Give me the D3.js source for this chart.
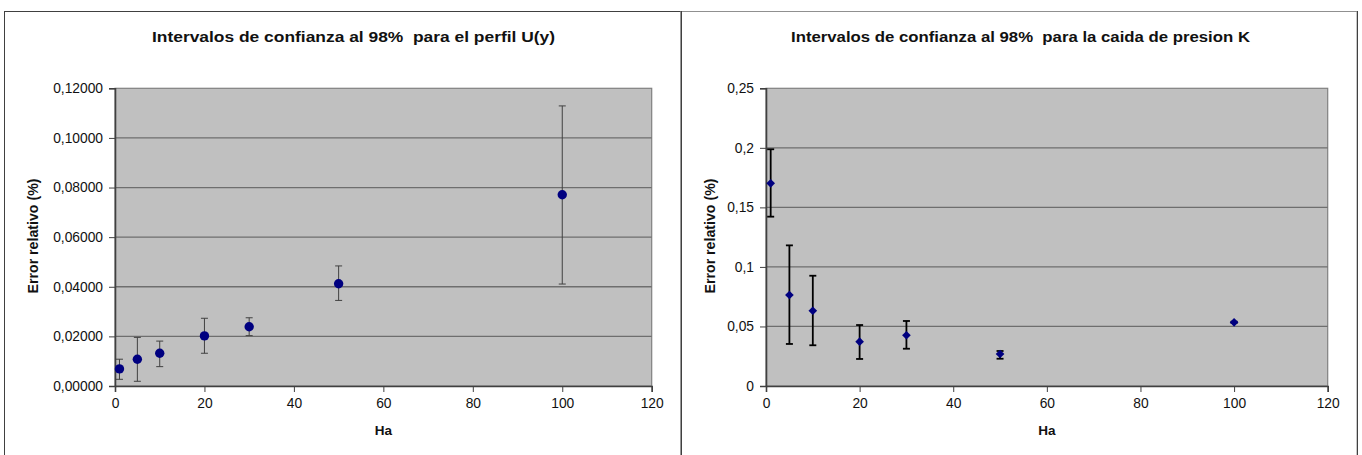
<!DOCTYPE html>
<html><head><meta charset="utf-8">
<script src="https://cdn.jsdelivr.net/npm/d3@7/dist/d3.min.js"></script>
<style>body{margin:0;background:#fff;}svg{display:block;font-family:"Liberation Sans",Arial,sans-serif;}</style>
</head><body>
<svg id="c" width="1362" height="455"></svg>
<script>
// ---- data ----
const haU = [1, 5, 10, 20, 30, 50, 100];
const errU = [0.0069, 0.0108, 0.0132, 0.0202, 0.0239, 0.0412, 0.0771];
const errUlo = [0.0027, 0.0019, 0.0078, 0.0132, 0.0203, 0.0345, 0.0411];
const errUhi = [0.0108, 0.0196, 0.0181, 0.0273, 0.0275, 0.0484, 0.1129];
const ticksUy = [0, 0.02, 0.04, 0.06, 0.08, 0.10, 0.12];

const haK = [1, 5, 10, 20, 30, 50, 100];
const errK = [0.1702, 0.0764, 0.0632, 0.0372, 0.0426, 0.0269, 0.0535];
const errKlo = [0.1422, 0.0353, 0.0342, 0.0227, 0.0313, 0.0229, 0.0530];
const errKhi = [0.1988, 0.1181, 0.0926, 0.0512, 0.0546, 0.0294, 0.0540];
const ticksKy = [0, 0.05, 0.1, 0.15, 0.2, 0.25];
const ticksX = [0, 20, 40, 60, 80, 100, 120];

const titleU = "Intervalos de confianza al 98%\u00a0 para el perfil U(y)";
const titleK = "Intervalos de confianza al 98%\u00a0 para la caida de presion K";
const yTitle = "Error relativo (%)";
const xTitle = "Ha";

const svg = d3.select("#c");

// frames
svg.append("rect").attr("x",4.5).attr("y",11.5).attr("width",676.5).attr("height",460)
  .attr("fill","none").attr("stroke","#404040").attr("stroke-width",1);
svg.append("rect").attr("x",681).attr("y",11.5).attr("width",676).attr("height",460)
  .attr("fill","none").attr("stroke","#909090").attr("stroke-width",1);
svg.append("line").attr("x1",681.5).attr("x2",681.5).attr("y1",11).attr("y2",455)
  .attr("stroke","#404040");
svg.append("line").attr("x1",1357.5).attr("x2",1357.5).attr("y1",11).attr("y2",455)
  .attr("stroke","#404040");

function chart(o){
  const g = svg.append("g");
  const x = d3.scaleLinear().domain([0,120]).range([o.left,o.right]);
  const y = d3.scaleLinear().domain([0,o.ymax]).range([386,88.3]);
  // plot area
  g.append("rect").attr("x",o.left).attr("y",88.3).attr("width",o.right-o.left).attr("height",386-88.3)
    .attr("fill","#c0c0c0").attr("stroke","#808080").attr("stroke-width",1.2);
  // gridlines
  g.selectAll(".grid").data(o.yticks.filter(d=>d>0 && d<o.ymax)).enter().append("line")
    .attr("x1",o.left).attr("x2",o.right).attr("y1",d=>y(d)).attr("y2",d=>y(d))
    .attr("stroke","#6e6e6e").attr("stroke-width",1.3);
  // axes
  const ya = d3.axisLeft(y).tickValues(o.yticks).tickSize(6).tickPadding(6).tickFormat(o.fmt);
  const ga = g.append("g").attr("transform",`translate(${o.left},0)`).call(ya);
  const xa = d3.axisBottom(x).tickValues(ticksX).tickSize(6).tickPadding(6).tickFormat(d3.format("d"));
  const gx = g.append("g").attr("transform",`translate(0,386)`).call(xa);
  [ga,gx].forEach(a=>{
    a.select(".domain").attr("stroke","#404040").attr("stroke-width",1.6);
    a.selectAll(".tick line").attr("stroke","#404040");
    a.selectAll("text").attr("font-size",13.8).attr("fill","#111").attr("font-family","Liberation Sans, Arial, sans-serif");
  });
  gx.selectAll("text").attr("dy","0.71em");
  // error bars
  const eb = g.selectAll(".eb").data(o.xs).enter().append("g");
  eb.append("line").attr("x1",(d)=>x(d)).attr("x2",d=>x(d))
    .attr("y1",(d,i)=>y(o.hi[i])).attr("y2",(d,i)=>y(o.lo[i]))
    .attr("stroke",o.ebColor).attr("stroke-width",o.ebW);
  [o.hi,o.lo].forEach(arr=>{
    eb.append("line").attr("x1",d=>x(d)-o.cap).attr("x2",d=>x(d)+o.cap)
      .attr("y1",(d,i)=>y(arr[i])).attr("y2",(d,i)=>y(arr[i]))
      .attr("stroke",o.ebColor).attr("stroke-width",o.ebW);
  });
  // markers
  if(o.marker==="circle"){
    g.selectAll(".pt").data(o.xs).enter().append("circle")
      .attr("cx",d=>x(d)).attr("cy",(d,i)=>y(o.ys[i])).attr("r",4.7).attr("fill","#000080");
  } else {
    g.selectAll(".pt").data(o.xs).enter().append("path")
      .attr("d",d3.symbol().type(d3.symbolDiamond2).size(48))
      .attr("transform",(d,i)=>`translate(${x(d)},${y(o.ys[i])})`)
      .attr("fill","#000080");
  }
  // titles
  g.append("text").attr("x",o.tx).attr("y",42).attr("text-anchor","middle")
    .attr("font-weight","bold").attr("font-size",15.5).attr("fill","#111")
    .attr("textLength",o.tw).attr("lengthAdjust","spacingAndGlyphs").text(o.title);
  g.append("text").attr("transform",`translate(${o.ytx},236) rotate(-90)`).attr("text-anchor","middle")
    .attr("dy","0.35em").attr("font-weight","bold").attr("font-size",14).attr("fill","#111")
    .attr("textLength",115).attr("lengthAdjust","spacingAndGlyphs").text(yTitle);
  g.append("text").attr("x",(o.left+o.right)/2).attr("y",430).attr("dy","0.35em").attr("text-anchor","middle")
    .attr("font-weight","bold").attr("font-size",13.5).attr("fill","#111").text(xTitle);
}

chart({left:115, right:651.7, ymax:0.12, yticks:ticksUy, fmt:d=>d3.format(".5f")(d).replace(".",","),
  xs:haU, ys:errU, lo:errUlo, hi:errUhi, ebColor:"#404040", ebW:1, cap:3.5, marker:"circle",
  title:titleU, tx:353.5, tw:403, ytx:33});
chart({left:766, right:1327.7, ymax:0.25, yticks:ticksKy, fmt:d=>String(+d.toFixed(2)).replace(".",","),
  xs:haK, ys:errK, lo:errKlo, hi:errKhi, ebColor:"#000", ebW:1.8, cap:3.5, marker:"diamond",
  title:titleK, tx:1020.5, tw:459, ytx:710});
</script>
</body></html>
